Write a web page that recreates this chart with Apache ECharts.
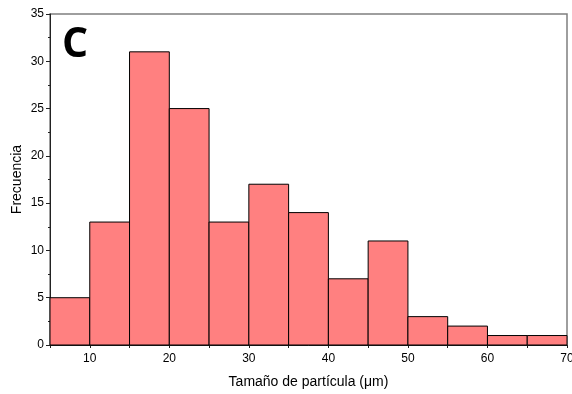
<!DOCTYPE html>
<html>
<head>
<meta charset="utf-8">
<script src="https://cdn.jsdelivr.net/npm/echarts@6/dist/echarts.min.js"></script>
<style>
  html, body { margin: 0; padding: 0; background: #fff; }
  #chart { width: 572px; height: 394px; }
</style>
</head>
<body>
<div id="chart"></div>
<script>
// Histogram bins (lower edge, µm), bin width and counts
const binStarts = [5, 10, 15, 20, 25, 30, 35, 40, 45, 50, 55, 60, 65];
const binWidth = 5;
const counts = [5, 13, 31, 25, 13, 17, 14, 7, 11, 3, 2, 1, 1];

const xLabel = 'Tamaño de partícula (μm)';
const yLabel = 'Frecuencia';
const panelLetter = 'C';

const chart = echarts.init(document.getElementById('chart'), null, { renderer: 'canvas' });

const data = binStarts.map((s, i) => [s, s + binWidth, counts[i]]);

chart.setOption({
  animation: false,
  grid: {
    left: 50, right: 5, top: 14, bottom: 49,
    outerBoundsMode: 'none', containLabel: false,
    show: true, borderColor: '#7f7f7f', borderWidth: 1.5, backgroundColor: 'transparent'
  },
  xAxis: {
    type: 'value', min: 5, max: 70, interval: 5,
    name: xLabel, nameLocation: 'middle', nameGap: 30,
    nameTextStyle: { fontFamily: 'Liberation Sans', fontSize: 14, color: '#000' },
    axisLine: { show: true, lineStyle: { color: '#222', width: 1 } },
    axisTick: { show: true, length: 3, lineStyle: { color: '#222' } },
    axisLabel: {
      fontFamily: 'Liberation Sans', fontSize: 12, color: '#000', margin: 8,
      formatter: v => (v % 10 === 0 ? String(v) : '')
    },
    splitLine: { show: false }
  },
  yAxis: {
    type: 'value', min: 0, max: 35, interval: 5,
    name: yLabel, nameLocation: 'middle', nameGap: 26, nameMoveOverlap: false,
    nameTextStyle: { fontFamily: 'Liberation Sans', fontSize: 14, color: '#000' },
    axisLine: { show: true, lineStyle: { color: '#222', width: 1 } },
    axisTick: { show: true, length: 4, lineStyle: { color: '#222' } },
    minorTick: { show: true, splitNumber: 2, length: 2, lineStyle: { color: '#222' } },
    axisLabel: { fontFamily: 'Liberation Sans', fontSize: 12, color: '#000', margin: 6 },
    splitLine: { show: false }
  },
  graphic: [{
    type: 'text', left: 62, top: 25, z: 10,
    style: { text: panelLetter, font: 'bold 41px "Open Sans"', fill: '#000' }
  }],
  series: [{
    type: 'custom',
    data: data,
    encode: { x: [0, 1], y: 2 },
    renderItem: function (params, api) {
      const p0 = api.coord([api.value(0), api.value(2)]);
      const p1 = api.coord([api.value(1), 0]);
      return {
        type: 'rect',
        shape: { x: p0[0], y: p0[1], width: p1[0] - p0[0], height: p1[1] - p0[1] },
        style: { fill: '#ff8080', stroke: '#000', lineWidth: 1 }
      };
    }
  }]
});
</script>
</body>
</html>
